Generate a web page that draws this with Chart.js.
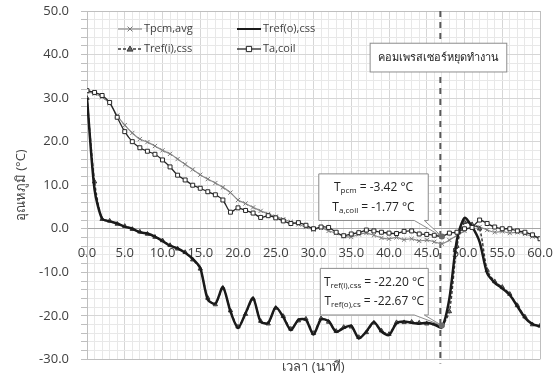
<!DOCTYPE html>
<html>
<head>
<meta charset="utf-8">
<script src="https://cdn.jsdelivr.net/npm/chart.js@4.4.1/dist/chart.umd.min.js"></script>
<style>
	html, body { margin: 0; padding: 0; background: #fff; }
	.chart { width: 560px; height: 377px; }
</style>
</head>
<body>
<div class="chart"><canvas id="myChart"></canvas></div>
<script>
/* Data */
const times = [
	0, 1, 2, 3, 4, 5, 6, 7, 8, 9, 10, 11, 12, 13, 14, 15, 16, 17, 18, 19, 20,
	21, 22, 23, 24, 25, 26, 27, 28, 29, 30, 31, 32, 33, 34, 35, 36, 37, 38, 39, 40,
	41, 42, 43, 44, 45, 46, 47, 48, 49, 50, 51, 52, 53, 54, 55, 56, 57, 58, 59, 60,
]
const tpcmAvg = [
	31.5, 31.0, 30.2, 28.8, 26.0, 23.8, 22.0, 20.6, 19.9, 19.0, 18.0,
	17.2, 16.0, 14.8, 13.6, 12.4, 11.4, 10.5, 9.5, 8.3, 6.6,
	5.8, 4.9, 4.1, 3.4, 2.8, 2.2, 1.6, 1.0, 0.4, -0.2,
	0.2, -0.5, -1.0, -1.7, -1.9, -1.3, -1.0, -1.5, -2.1, -2.3,
	-2.0, -2.5, -2.3, -2.8, -2.6, -3.0, -3.42, -2.6, -1.5, -0.5,
	0.5, 0.4, -0.3, -0.8, -0.6, -1.0, -0.8, -1.2, -1.8, -2.2,
]
const trefOut = [
	30.0, 9.0, 2.3, 1.7, 1.2, 0.5, 0.0, -0.8, -1.1, -1.8, -2.8,
	-3.9, -4.5, -5.5, -6.9, -9.0, -16.3, -17.2, -13.4, -19.0, -22.8,
	-19.4, -15.9, -21.4, -21.6, -18.0, -20.3, -23.3, -20.9, -20.9, -24.3,
	-20.8, -21.2, -23.7, -22.8, -22.3, -25.2, -23.6, -21.4, -23.6, -24.4,
	-21.7, -21.3, -21.6, -21.8, -21.6, -22.0, -22.67, -16.0, -2.5, 2.5,
	0.5, -3.0, -10.2, -12.4, -13.7, -15.2, -17.8, -20.4, -21.9, -22.4,
]
const trefIn = [
	30.0, 10.8, 2.2, 1.8, 1.1, 0.6, -0.1, -0.7, -1.2, -1.9, -2.7,
	-3.8, -4.6, -5.4, -7.1, -9.2, -15.9, -17.4, -13.6, -18.8, -22.5,
	-19.6, -16.1, -21.2, -21.8, -18.2, -20.1, -23.0, -21.1, -20.7, -24.0,
	-20.6, -21.4, -23.5, -22.6, -22.5, -24.9, -23.8, -21.6, -23.4, -24.2,
	-21.5, -21.5, -21.4, -21.6, -21.8, -21.8, -22.20, -19.0, -4.0, 1.5,
	1.0, 0.0, -9.5, -12.1, -13.4, -15.0, -17.6, -20.2, -22.0, -22.3,
]
const taCoil = [
	31.7, 31.3, 30.6, 29.0, 25.6, 22.3, 20.0, 18.6, 17.8, 17.1, 15.8,
	14.2, 12.3, 11.2, 10.0, 9.3, 8.5, 7.8, 6.6, 3.8, 4.8,
	4.2, 3.6, 2.6, 3.0, 2.5, 1.8, 1.2, 1.4, 0.8, 0.0,
	0.4, 0.3, -0.8, -1.6, -1.2, -0.9, -0.3, -0.5, -0.8, -1.0,
	-1.1, -0.6, -0.5, -1.2, -1.3, -1.5, -1.77, -1.0, -0.8, 0.0,
	0.3, 2.0, 1.2, 0.4, 0.0, 0.0, -0.5, -0.8, -1.4, -2.3,
]
const xTickLabels = [0, 5, 10, 15, 20, 25, 30, 35, 40, 45, 50, 55, 60]
const yTickLabels = [-30, -20, -10, 0, 10, 20, 30, 40, 50]

const stopTime = 46.8
const stopText = 'คอมเพรสเซอร์หยุดทำงาน'

const FONT = "'Open Sans', 'Noto Sans', 'DejaVu Sans', sans-serif"
const TEXT = '#404040'

function points(values) {
	return values.map((v, i) => ({ x: times[i], y: v }))
}

/* marker + text with subscript */
function drawMarker(ctx, style, x, y, r, stroke, fill) {
	ctx.save()
	ctx.strokeStyle = stroke
	ctx.fillStyle = fill
	ctx.lineWidth = 1
	ctx.setLineDash([])
	ctx.beginPath()
	if (style === 'crossRot') {
		ctx.moveTo(x - r * 0.7, y - r * 0.7)
		ctx.lineTo(x + r * 0.7, y + r * 0.7)
		ctx.moveTo(x + r * 0.7, y - r * 0.7)
		ctx.lineTo(x - r * 0.7, y + r * 0.7)
		ctx.stroke()
	} else if (style === 'triangle') {
		ctx.moveTo(x, y - r)
		ctx.lineTo(x + r, y + r * 0.7)
		ctx.lineTo(x - r, y + r * 0.7)
		ctx.closePath()
		ctx.fill()
		ctx.stroke()
	} else if (style === 'rect') {
		ctx.rect(x - r * 0.8, y - r * 0.8, r * 1.6, r * 1.6)
		ctx.fill()
		ctx.stroke()
	}
	ctx.restore()
}

function subText(ctx, parts, cx, y) {
	// parts: [text, isSub]
	const big = '12px ' + FONT
	const small = '8px ' + FONT
	let w = 0
	parts.forEach(p => {
		ctx.font = p[1] ? small : big
		w += ctx.measureText(p[0]).width
	})
	let x = cx - w / 2
	ctx.textAlign = 'left'
	ctx.textBaseline = 'middle'
	ctx.fillStyle = '#222'
	parts.forEach(p => {
		ctx.font = p[1] ? small : big
		ctx.fillText(p[0], x, p[1] ? y + 3 : y)
		x += ctx.measureText(p[0]).width
	})
}

function calloutBox(ctx, xs, ys, box, anchor, lines) {
	const l = xs.getPixelForValue(box[0])
	const r = xs.getPixelForValue(box[1])
	const t = ys.getPixelForValue(box[2])
	const b = ys.getPixelForValue(box[3])
	const ax = xs.getPixelForValue(anchor[0])
	const ay = ys.getPixelForValue(anchor[1])
	ctx.save()
	ctx.strokeStyle = '#8c8c8c'
	ctx.lineWidth = 1
	ctx.fillStyle = '#fff'
	ctx.beginPath()
	ctx.moveTo(l, t)
	ctx.lineTo(r, t)
	ctx.lineTo(r, b)
	ctx.lineTo(r - 4, b)
	ctx.lineTo(ax, ay)
	ctx.lineTo(r - 14, b)
	ctx.lineTo(l, b)
	ctx.closePath()
	ctx.fill()
	ctx.stroke()
	ctx.fillStyle = '#6b6b6b'
	ctx.beginPath()
	ctx.arc(ax, ay, 3, 0, Math.PI * 2)
	ctx.fill()
	const mid = (l + r) / 2
	subText(ctx, lines[0], mid, t + (b - t) * 0.3)
	subText(ctx, lines[1], mid, t + (b - t) * 0.72)
	ctx.restore()
}

const extras = {
	id: 'extras',
	beforeDatasetsDraw(chart) {
		const { ctx, chartArea, scales } = chart
		const x = scales.x.getPixelForValue(stopTime)
		ctx.save()
		ctx.strokeStyle = '#595959'
		ctx.lineWidth = 2
		ctx.setLineDash([6, 5])
		ctx.beginPath()
		ctx.moveTo(x, chartArea.top)
		ctx.lineTo(x, chartArea.bottom + 4)
		ctx.stroke()
		ctx.restore()
	},
	afterDatasetsDraw(chart) {
		const { ctx, scales } = chart
		const xs = scales.x
		const ys = scales.y

		// stop label
		const l = xs.getPixelForValue(37.5)
		const r = xs.getPixelForValue(55.6)
		const t = ys.getPixelForValue(42.6)
		const b = ys.getPixelForValue(36.0)
		ctx.save()
		ctx.fillStyle = '#fff'
		ctx.strokeStyle = '#8c8c8c'
		ctx.lineWidth = 1
		ctx.fillRect(l, t, r - l, b - t)
		ctx.strokeRect(l, t, r - l, b - t)
		ctx.fillStyle = '#222'
		ctx.font = '11px ' + FONT
		ctx.textAlign = 'center'
		ctx.textBaseline = 'middle'
		ctx.fillText(stopText, (l + r) / 2, (t + b) / 2)
		ctx.restore()

		calloutBox(ctx, xs, ys, [30.7, 45.2, 12.6, 1.9], [47, taCoil[47]], [
			[['T', false], ['pcm', true], [' = ' + tpcmAvg[47].toFixed(2) + ' °C', false]],
			[['T', false], ['a,coil', true], [' = ' + taCoil[47].toFixed(2) + ' °C', false]],
		])
		calloutBox(ctx, xs, ys, [30.9, 45.2, -9.1, -19.8], [47, trefIn[47]], [
			[['T', false], ['ref(i),css', true], [' = ' + trefIn[47].toFixed(2) + ' °C', false]],
			[['T', false], ['ref(o),cs', true], [' = ' + trefOut[47].toFixed(2) + ' °C', false]],
		])
	},
	afterDraw(chart) {
		// legend inside the plot, 2 x 2
		const { ctx } = chart
		const cells = [
			[0, 118, 29], [1, 237, 29], [2, 118, 49], [3, 237, 49],
		]
		cells.forEach(([i, x, y]) => {
			const ds = chart.data.datasets[i]
			ctx.save()
			ctx.strokeStyle = ds.borderColor
			ctx.lineWidth = Math.min(ds.borderWidth, 2)
			ctx.setLineDash(ds.borderDash || [])
			ctx.beginPath()
			ctx.moveTo(x, y)
			ctx.lineTo(x + 24, y)
			ctx.stroke()
			ctx.restore()
			if (ds.pointRadius > 0) {
				drawMarker(ctx, ds.pointStyle, x + 12, y, ds.pointRadius + 0.5,
					ds.pointBorderColor, ds.pointBackgroundColor)
			}
			ctx.save()
			ctx.fillStyle = TEXT
			ctx.font = '11px ' + FONT
			ctx.textAlign = 'left'
			ctx.textBaseline = 'middle'
			ctx.fillText(ds.label, x + 26, y)
			ctx.restore()
		})
	},
}

/* Chart.js */
const ctx = document.getElementById('myChart')

new Chart(ctx, {
	type: 'line',
	data: {
		datasets: [
			{
				label: 'Tpcm,avg',
				data: points(tpcmAvg),
				borderColor: '#8a8a8a',
				borderWidth: 1.2,
				pointStyle: 'crossRot',
				pointRadius: 3,
				pointBorderColor: '#7a7a7a',
				pointBackgroundColor: '#7a7a7a',
				pointBorderWidth: 1,
				order: 3,
			},
			{
				label: 'Tref(o),css',
				data: points(trefOut),
				borderColor: '#1a1a1a',
				borderWidth: 2.5,
				pointRadius: 0,
				order: 1,
			},
			{
				label: 'Tref(i),css',
				data: points(trefIn),
				borderColor: '#3a3a3a',
				borderWidth: 1.5,
				borderDash: [3, 2],
				pointStyle: 'triangle',
				pointRadius: 2.5,
				pointBorderColor: '#3a3a3a',
				pointBackgroundColor: '#6a6a6a',
				pointBorderWidth: 1,
				order: 2,
			},
			{
				label: 'Ta,coil',
				data: points(taCoil),
				borderColor: '#262626',
				borderWidth: 1.3,
				pointStyle: 'rect',
				pointRadius: 2.8,
				pointBorderColor: '#262626',
				pointBackgroundColor: '#ffffff',
				pointBorderWidth: 1,
				order: 0,
			},
		],
	},
	options: {
		responsive: true,
		maintainAspectRatio: false,
		animation: false,
		layout: {
			padding: { left: 7, right: 20, top: 11, bottom: 0 },
		},
		elements: {
			line: { tension: 0.25 },
		},
		plugins: {
			legend: { display: false },
			tooltip: { enabled: false },
			title: {
				display: true,
				position: 'bottom',
				fullSize: false,
				text: 'เวลา (นาที)',
				color: TEXT,
				font: { family: FONT, size: 13, weight: 'normal' },
				padding: { top: 0, bottom: 2 },
			},
		},
		scales: {
			x: {
				type: 'linear',
				position: { y: 0 },
				min: 0,
				max: 60,
				afterFit: (scale) => {
					scale.paddingLeft = 0
					scale.paddingRight = 0
				},
				ticks: {
					stepSize: 1,
					autoSkip: false,
					maxRotation: 0,
					padding: 17,
					color: TEXT,
					font: { family: FONT, size: 13 },
					callback: (v) => (xTickLabels.includes(v) ? v.toFixed(1) : ''),
				},
				grid: {
					drawTicks: false,
					color: (c) => {
						const v = c.tick ? c.tick.value : 0
						if (v === 60) return '#bfbfbf'
						return v % 5 === 0 ? '#d6d6d6' : '#e8e8e8'
					},
				},
				border: { color: '#a6a6a6', width: 1 },
			},
			y: {
				min: -30,
				max: 50,
				afterFit: (scale) => {
					scale.width = 80
					scale.paddingTop = 0
					scale.paddingBottom = 0
				},
				ticks: {
					stepSize: 2,
					autoSkip: false,
					padding: 12,
					color: TEXT,
					font: { family: FONT, size: 13 },
					callback: (v) => (yTickLabels.includes(v) ? v.toFixed(1) : ''),
				},
				grid: {
					tickLength: 6,
					tickColor: '#bfbfbf',
					color: (c) => {
						const v = c.tick ? c.tick.value : 0
						if (v === 50 || v === -30) return '#bfbfbf'
						return v % 10 === 0 ? '#d6d6d6' : '#e8e8e8'
					},
				},
				border: { color: '#bfbfbf', width: 1 },
				title: {
					display: true,
					text: 'อุณหภูมิ (°C)',
					color: TEXT,
					font: { family: FONT, size: 13 },
					padding: { top: 6, bottom: 0 },
				},
			},
		},
	},
	plugins: [extras],
})
</script>
</body>
</html>
